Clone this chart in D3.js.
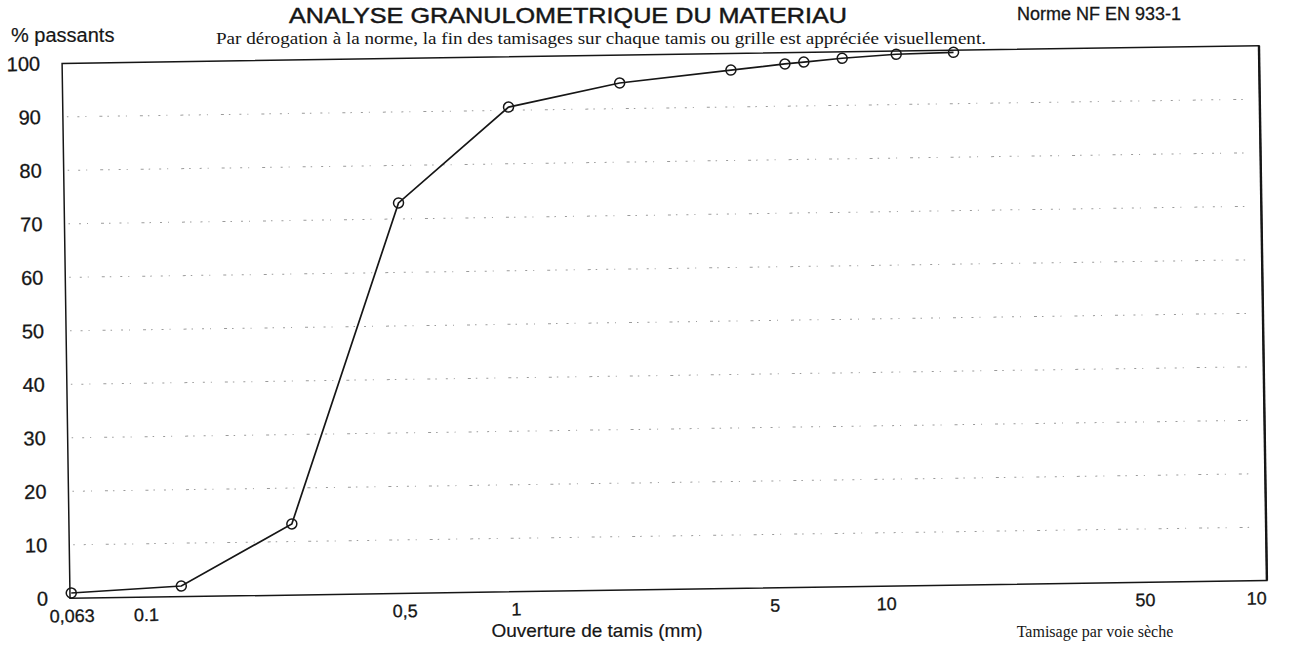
<!DOCTYPE html>
<html>
<head>
<meta charset="utf-8">
<script src="https://cdn.jsdelivr.net/npm/d3@7"></script>
<style>
  html, body { margin: 0; padding: 0; background: #fff; }
  svg { display: block; }
</style>
</head>
<body>
<svg id="chart" width="1292" height="653"></svg>
<script>
// ---- data ----
const sieveSizes = [0.063, 0.125, 0.25, 0.5, 1, 2, 4, 5.6, 6.3, 8, 11.2, 16];
const passingPct = [1.0, 2.0, 13.3, 73.0, 90.6, 94.8, 96.9, 97.9, 98.2, 98.8, 99.4, 99.6];
const yTickValues = [0, 10, 20, 30, 40, 50, 60, 70, 80, 90, 100];
const gridValues = [10, 20, 30, 40, 50, 60, 70, 80, 90];
const xTickValues = [0.063, 0.1, 0.5, 1, 5, 10, 50, 100];
const xTickLabels = ["0,063", "0.1", "0,5", "1", "5", "10", "50", "10"];

const titleText = "ANALYSE GRANULOMETRIQUE DU MATERIAU";
const subtitleText = "Par dérogation à la norme, la fin des tamisages sur chaque tamis ou grille est appréciée visuellement.";
const normText = "Norme NF EN 933-1";
const yAxisTitle = "% passants";
const xAxisTitle = "Ouverture de tamis (mm)";
const noteText = "Tamisage par voie sèche";

// ---- layout ----
const svg = d3.select("#chart");
const frame = { left: 66, right: 1263, top: 54.5, bottom: 589.5 };
// the scanned sheet is slightly tilted: the plot is drawn in a rotated group
const g = svg.append("g").attr("transform", "rotate(-0.85, 665, 322)");

const x = d3.scaleLog().domain([0.0625, 107]).range([frame.left, frame.right]);
const y = d3.scaleLinear().domain([0, 100]).range([frame.bottom, frame.top]);

const sans = "'Liberation Sans', Arial, sans-serif";
const serif = "'Liberation Serif', 'Times New Roman', serif";
const ink = "#161616";

// faint dotted grid rows
g.append("g").selectAll("line").data(gridValues).join("line")
  .attr("x1", frame.left + 4).attr("x2", frame.right - 8)
  .attr("y1", d => y(d)).attr("y2", d => y(d))
  .attr("stroke", "#9a9a9a").attr("stroke-width", 1)
  .attr("stroke-dasharray", "1.5 9 2 6 1 13 3 5");

// frame
g.append("rect")
  .attr("x", frame.left).attr("y", frame.top)
  .attr("width", frame.right - frame.left).attr("height", frame.bottom - frame.top)
  .attr("fill", "none").attr("stroke", ink).attr("stroke-width", 1.5);
g.append("line")
  .attr("x1", frame.right).attr("x2", frame.right)
  .attr("y1", frame.top).attr("y2", frame.bottom)
  .attr("stroke", ink).attr("stroke-width", 2.4);

// y axis labels
const yAxis = d3.axisLeft(y).tickValues(yTickValues).tickSize(0).tickPadding(0).tickFormat(d3.format("d"));
const ya = g.append("g").attr("transform", `translate(${frame.left - 22},0)`).call(yAxis);
ya.select(".domain").remove();
ya.selectAll("text").attr("font-family", sans).attr("font-size", 20).attr("fill", ink)
  .attr("stroke", ink).attr("stroke-width", 0.3);

// x axis labels
const xAxis = d3.axisBottom(x).tickValues(xTickValues).tickSize(0).tickPadding(0)
  .tickFormat((d, i) => xTickLabels[i]);
const xa = g.append("g").attr("transform", `translate(0,${frame.bottom + 11})`).call(xAxis);
xa.select(".domain").remove();
xa.selectAll("text").attr("font-family", sans).attr("font-size", 18).attr("fill", ink)
  .attr("stroke", ink).attr("stroke-width", 0.3);

// curve
const pts = sieveSizes.map((s, i) => [s, passingPct[i]]);
g.append("path").datum(pts)
  .attr("d", d3.line().x(d => x(d[0])).y(d => y(d[1])))
  .attr("fill", "none").attr("stroke", ink).attr("stroke-width", 1.7);
g.append("g").selectAll("circle").data(pts).join("circle")
  .attr("cx", d => x(d[0])).attr("cy", d => y(d[1])).attr("r", 5)
  .attr("fill", "none").attr("stroke", ink).attr("stroke-width", 1.5);

// texts (placed in page coordinates)
function label(txt, xp, yp, anchor, family, size) {
  return svg.append("text").attr("x", xp).attr("y", yp).attr("text-anchor", anchor)
    .attr("font-family", family).attr("font-size", size).attr("fill", ink).text(txt);
}
label(titleText, 568, 23, "middle", sans, 22)
  .attr("textLength", 558).attr("lengthAdjust", "spacingAndGlyphs")
  .attr("stroke", ink).attr("stroke-width", 0.45);
label(subtitleText, 601, 44, "middle", serif, 16)
  .attr("textLength", 770).attr("lengthAdjust", "spacingAndGlyphs");
label(normText, 1099, 20, "middle", sans, 18).attr("stroke", ink).attr("stroke-width", 0.3);
label(yAxisTitle, 11, 42, "start", sans, 20).attr("stroke", ink).attr("stroke-width", 0.2);
label(xAxisTitle, 597, 637, "middle", sans, 19).attr("stroke", ink).attr("stroke-width", 0.2);
label(noteText, 1095, 637, "middle", serif, 16);
</script>
</body>
</html>
